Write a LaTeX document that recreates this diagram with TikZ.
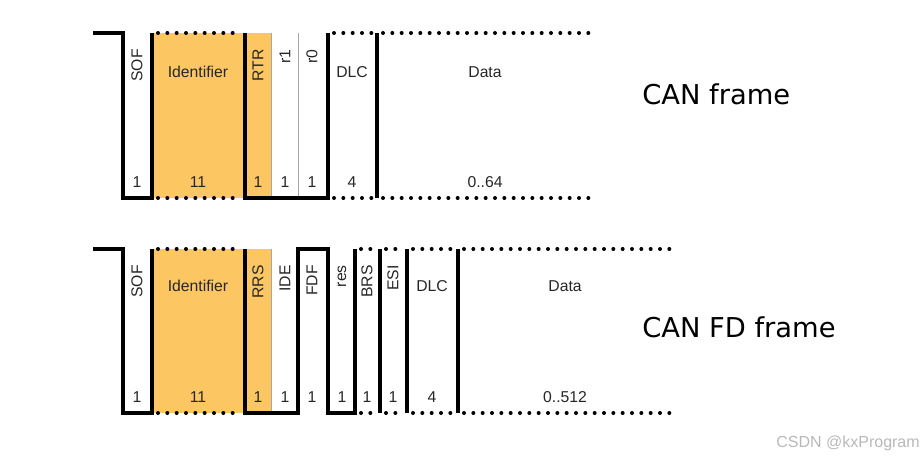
\documentclass[tikz,border=0pt]{standalone}
\usepackage{fontspec}
\setmainfont{Liberation Sans}
\newfontfamily\titlefont{DejaVu Sans}
\definecolor{fieldorange}{RGB}{252,199,99}
\begin{document}
\begin{tikzpicture}[x=0.75pt, y=-0.75pt,
  sig/.style={line width=3pt},
  dots/.style={line width=3pt, line cap=round, dash pattern=on 0pt off 7pt},
  sep/.style={gray!70, line width=0.7pt},
  lbl/.style={font=\fontsize{11.8}{13}\selectfont, text=black!85, inner sep=0pt},
  vlbl/.style={lbl, rotate=90, anchor=east},
  title/.style={font=\titlefont\fontsize{20.5}{24}\selectfont, anchor=west, inner sep=0pt}]
\useasboundingbox (0,0) rectangle (923,460);
% ---------- CAN frame ----------
\fill[fieldorange] (152,33) rectangle (271,198);
\draw[sig] (93,33) -- (123,33) -- (123,198) -- (152,198) -- (152,33);
\draw[dots] (158,33) -- (242,33);
\draw[dots] (158,198) -- (242,198);
\draw[sep] (271,33) -- (271,198);
\draw[sep] (298,33) -- (298,198);
\draw[sig] (245,33) -- (245,198) -- (328,198) -- (328,33);
% DLC
\draw[dots] (334,33) -- (374,33);
\draw[dots] (334,198) -- (374,198);
\draw[sig] (377,33) -- (377,198);
% Data
\draw[dots] (383,33) -- (595,33);
\draw[dots] (383,198) -- (595,198);
% labels
\node[vlbl] (sof1) at (137,49) {SOF};
\node[lbl] (id1) at (198,72) {Identifier};
\node[vlbl] (rtr1) at (258,49) {RTR};
\node[vlbl] (ra1) at (285,49) {r1};
\node[vlbl] (rb1) at (312,49) {r0};
\node[lbl] (dlc1) at (352,72) {DLC};
\node[lbl] (data1) at (485,72) {Data};
\foreach \x/\n in {137/1, 198/11, 258/1, 285/1, 312/1, 352/4, 485/0..64}
  \node[lbl] at (\x,182) {\n};
\node[title] (can) at (642,94) {CAN frame};
% ---------- CAN FD frame ----------
\fill[fieldorange] (152,249) rectangle (271,413);
\draw[sig] (93,249) -- (123,249) -- (123,413) -- (152,413) -- (152,249);
\draw[dots] (158,249) -- (242,249);
\draw[dots] (158,413) -- (242,413);
\draw[sep] (271,249) -- (271,413);
\draw[sig] (245,249) -- (245,413) -- (298,413) -- (298,249) -- (328,249)
  -- (328,413) -- (355,413) -- (355,249);
% BRS, ESI, DLC
\foreach \a/\b in {355/380, 380/407, 407/458} {
  \draw[dots] (\a+6,249) -- (\b-3,249);
  \draw[dots] (\a+6,413) -- (\b-3,413);
  \draw[sig] (\b,249) -- (\b,413);
}
% Data
\draw[dots] (464,249) -- (673,249);
\draw[dots] (464,413) -- (673,413);
% labels
\node[vlbl] (sof2) at (137,265) {SOF};
\node[lbl] (id2) at (198,286) {Identifier};
\node[vlbl] (rrs2) at (258,265) {RRS};
\node[vlbl] (ide2) at (285,265) {IDE};
\node[vlbl] (fdf2) at (312,265) {FDF};
\node[vlbl] (res2) at (342,265) {res};
\node[vlbl] (brs2) at (367,265) {BRS};
\node[vlbl] (esi2) at (393,265) {ESI};
\node[lbl] (dlc2) at (432,286) {DLC};
\node[lbl] (data2) at (565,286) {Data};
\foreach \x/\n in {137/1, 198/11, 258/1, 285/1, 312/1, 342/1, 367/1, 393/1, 432/4, 565/0..512}
  \node[lbl] at (\x,397) {\n};
\node[title] (canfd) at (642,327) {CAN FD frame};
% watermark
\node[font=\fontsize{12}{14}\selectfont, text=black!28, anchor=east, inner sep=0pt] (mark) at (920,443) {CSDN @kxProgram};
\end{tikzpicture}
\end{document}
